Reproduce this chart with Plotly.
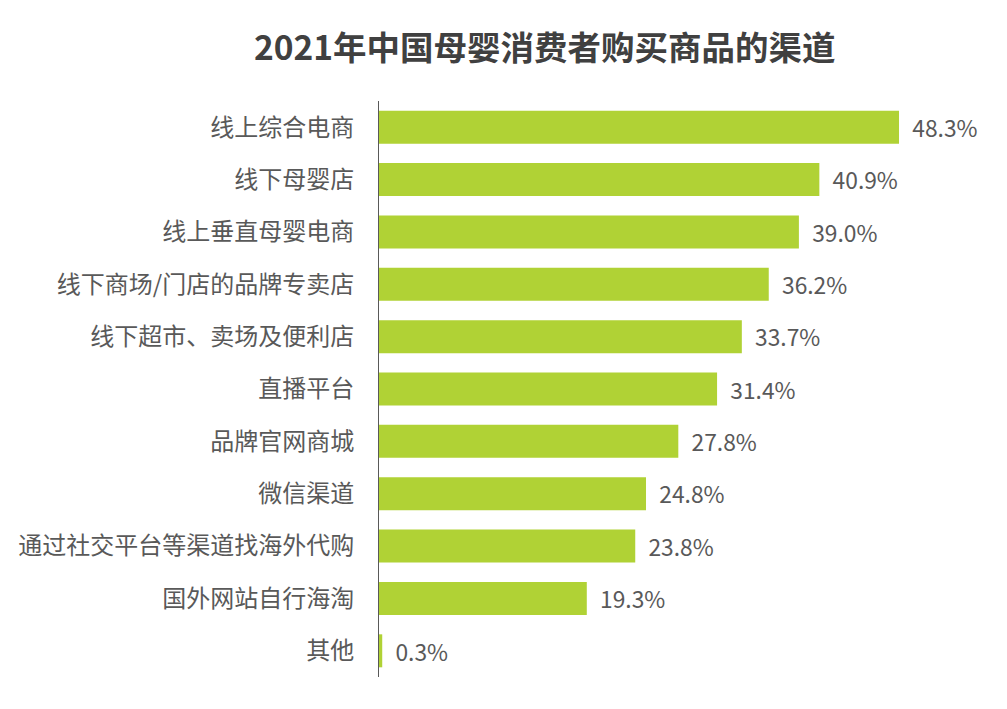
import plotly.graph_objects as go

TITLE = "2021年中国母婴消费者购买商品的渠道"
CHANNELS = [
    "线上综合电商",
    "线下母婴店",
    "线上垂直母婴电商",
    "线下商场/门店的品牌专卖店",
    "线下超市、卖场及便利店",
    "直播平台",
    "品牌官网商城",
    "微信渠道",
    "通过社交平台等渠道找海外代购",
    "国外网站自行海淘",
    "其他",
]
SHARES = [48.3, 40.9, 39.0, 36.2, 33.7, 31.4, 27.8, 24.8, 23.8, 19.3, 0.3]

BAR_COLOR = "#B0D235"
TEXT_COLOR = "#595959"
FONT = "Noto Sans CJK SC"

fig = go.Figure()
fig.add_trace(
    go.Bar(
        x=SHARES,
        y=CHANNELS,
        orientation="h",
        marker=dict(color=BAR_COLOR, line_width=0),
        text=[f"{v:.1f}%" for v in SHARES],
        texttemplate="  %{text}",
        textposition="outside",
        textfont=dict(size=23.5, color=TEXT_COLOR, family=FONT),
        cliponaxis=False,
        hoverinfo="skip",
    )
)

# the page body has an 8px margin, so the margins are trimmed to compensate
fig.update_layout(
    width=1007,
    height=709,
    paper_bgcolor="white",
    plot_bgcolor="white",
    bargap=0.37,
    showlegend=False,
    margin=dict(l=371, r=18, t=93, b=40, autoexpand=False),
    title=dict(
        text=f"<b>{TITLE}</b>",
        x=0.533,
        xanchor="center",
        y=0.943,
        yanchor="middle",
        font=dict(size=33.5, color="#404040", family=FONT),
    ),
    xaxis=dict(
        range=[0, 57.4],
        visible=False,
        showgrid=False,
        zeroline=False,
        automargin=False,
    ),
    yaxis=dict(
        autorange="reversed",
        showline=True,
        linecolor=TEXT_COLOR,
        linewidth=1,
        showgrid=False,
        ticks="",
        ticklabelstandoff=19,
        automargin=False,
        tickfont=dict(size=24, color=TEXT_COLOR, family=FONT),
    ),
    font=dict(family=FONT),
)

fig.write_html("out.html")
